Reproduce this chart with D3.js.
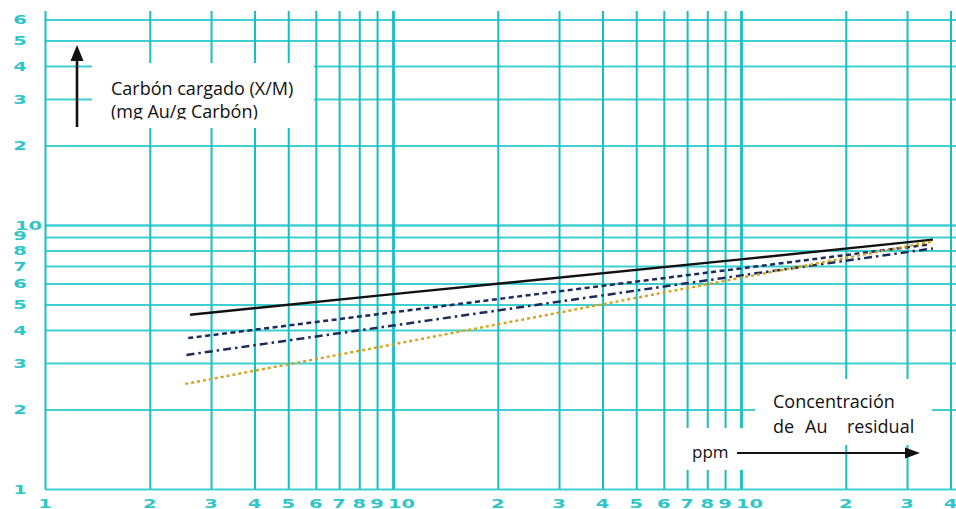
<!DOCTYPE html>
<html>
<head>
<meta charset="utf-8">
<script src="https://cdn.jsdelivr.net/npm/d3@7"></script>
<style>
  html, body { margin: 0; padding: 0; background: #fff; }
  svg { display: block; }
</style>
</head>
<body>
<svg id="chart" width="956" height="509"></svg>
<script>
// Log-log grid: gold loaded on carbon vs. residual gold concentration
const xTickValues = [1, 2, 3, 4, 5, 6, 7, 8, 9, 10, 20, 30, 40, 50, 60, 70, 80, 90, 100, 200, 300, 400];
const xTickLabels = ["1", "2", "3", "4", "5", "6", "7", "8", "9", "10", "2", "3", "4", "5", "6", "7", "8", "9", "10", "2", "3", "4"];
const yTickValues = [1, 2, 3, 4, 5, 6, 7, 8, 9, 10, 20, 30, 40, 50, 60];
const yTickLabels = ["1", "2", "3", "4", "5", "6", "7", "8", "9", "10", "2", "3", "4", "5", "6"];

// Isotherm curves (x: ppm Au residual, y: mg Au / g carbon)
const solidX = [2.61, 10, 100, 356];
const solidY = [4.57, 5.47, 7.41, 8.8];
const dashedX = [2.58, 10, 100, 350];
const dashedY = [3.73, 4.67, 6.85, 8.45];
const dashDotX = [2.55, 10, 100, 356];
const dashDotY = [3.22, 4.16, 6.44, 8.15];
const dottedX = [2.53, 10, 100, 353];
const dottedY = [2.5, 3.53, 6.31, 8.65];

const svg = d3.select("#chart");

const x = d3.scaleLog().domain([1, 1000]).range([45, 1089]);
const y = d3.scaleLog().domain([1, 100]).range([489, -39]);

const gridTop = 64.7;     // upper end of vertical rules
const gridRight = 420;    // right end of horizontal rules

const vColor = "#16bfc2";
const hColor = "#3fcfd1";

// horizontal rules
const gy = svg.append("g")
  .attr("transform", `translate(${x(1)},0)`)
  .call(d3.axisLeft(y).tickValues(yTickValues)
    .tickSize(-(x(gridRight) - x(1))).tickFormat(""));
gy.select(".domain").remove();
gy.selectAll(".tick line")
  .attr("stroke", hColor)
  .attr("stroke-width", d => d === 10 ? 2.6 : 2);

// vertical rules
const gx = svg.append("g")
  .attr("transform", `translate(0,${y(1)})`)
  .call(d3.axisBottom(x).tickValues(xTickValues)
    .tickSize(-(y(1) - y(gridTop))).tickFormat(""));
gx.select(".domain").remove();
gx.selectAll(".tick line")
  .attr("stroke", vColor)
  .attr("stroke-width", d => (d === 10 || d === 100) ? 2.8 : 2);

// white panels behind the axis titles
const panels = [
  [92, 63, 222, 65],
  [755, 379, 177, 66],
  [672, 428, 80, 42]
];
svg.append("g").selectAll("rect").data(panels).join("rect")
  .attr("x", d => d[0]).attr("y", d => d[1])
  .attr("width", d => d[2]).attr("height", d => d[3])
  .attr("fill", "#fff");

// tick labels
const labelColor = "#2fc6c9";
const tickFont = "'DejaVu Sans', sans-serif";

svg.append("g").selectAll("text").data(xTickValues).join("text")
  .each(function (d, i) {
    const t = d3.select(this);
    const lbl = xTickLabels[i];
    const isTen = lbl === "10";
    const px = isTen ? x(d) - 5 : x(d);
    t.attr("transform", `translate(${px},507.5) scale(1.5,1)`)
      .attr("text-anchor", isTen ? "start" : "middle")
      .text(lbl);
  })
  .attr("font-family", tickFont)
  .attr("font-weight", "bold")
  .attr("font-size", 13)
  .attr("fill", labelColor);

svg.append("g").selectAll("text").data(yTickValues).join("text")
  .each(function (d, i) {
    const t = d3.select(this);
    const lbl = yTickLabels[i];
    const isTen = lbl === "10";
    const px = isTen ? 15 : 20;
    const py = y(d) + 4.8 + (lbl === "9" && d === 9 ? -2 : 0);
    t.attr("transform", `translate(${px},${py}) scale(1.5,1)`)
      .attr("text-anchor", isTen ? "start" : "middle")
      .text(lbl);
  })
  .attr("font-family", tickFont)
  .attr("font-weight", "bold")
  .attr("font-size", 13)
  .attr("fill", labelColor);

// curves
const line = d3.line().x(d => x(d[0])).y(d => y(d[1]));
const curves = [
  { xs: solidX, ys: solidY, color: "#111", width: 2.4, dash: null },
  { xs: dashedX, ys: dashedY, color: "#1d2b5c", width: 2.5, dash: "5,3.5" },
  { xs: dashDotX, ys: dashDotY, color: "#1d2b5c", width: 2.5, dash: "8,4,2.5,4" },
  { xs: dottedX, ys: dottedY, color: "#d4a21e", width: 2.4, dash: "3,3" }
];
svg.append("g").selectAll("path").data(curves).join("path")
  .attr("d", c => line(c.xs.map((v, i) => [v, c.ys[i]])))
  .attr("fill", "none")
  .attr("stroke", d => d.color)
  .attr("stroke-width", d => d.width)
  .attr("stroke-dasharray", d => d.dash);

// axis titles
const titleFont = "'Open Sans', 'Noto Sans', sans-serif";
const titleSize = 18;
svg.append("defs").append("clipPath").attr("id", "clipUnits")
  .append("rect").attr("x", 100).attr("y", 98).attr("width", 220).attr("height", 21.5);

svg.append("text").attr("x", 111).attr("y", 95)
  .attr("font-family", titleFont).attr("font-size", titleSize).attr("fill", "#111")
  .text("Carbón cargado (X/M)");
svg.append("text").attr("x", 111).attr("y", 118)
  .attr("font-family", titleFont).attr("font-size", titleSize).attr("fill", "#111")
  .attr("clip-path", "url(#clipUnits)")
  .text("(mg Au/g Carbón)");

svg.append("text").attr("x", 773).attr("y", 408)
  .attr("font-family", titleFont).attr("font-size", titleSize).attr("fill", "#111")
  .text("Concentración");
const sub = svg.append("text").attr("y", 433)
  .attr("font-family", titleFont).attr("font-size", titleSize).attr("fill", "#111");
sub.append("tspan").attr("x", 773).text("de");
sub.append("tspan").attr("x", 805).text("Au");
sub.append("tspan").attr("x", 847).text("residual");

svg.append("text").attr("x", 692).attr("y", 458)
  .attr("font-family", titleFont).attr("font-size", 17).attr("fill", "#111")
  .text("ppm");

// arrows
svg.append("line").attr("x1", 77).attr("y1", 127).attr("x2", 77).attr("y2", 58)
  .attr("stroke", "#111").attr("stroke-width", 2.6);
svg.append("path").attr("d", "M77,45 L70.5,61 L83.5,61 Z").attr("fill", "#111");

svg.append("line").attr("x1", 737).attr("y1", 453).attr("x2", 908).attr("y2", 453)
  .attr("stroke", "#111").attr("stroke-width", 2);
svg.append("path").attr("d", "M920,453 L905,447.5 L905,458.5 Z").attr("fill", "#111");
</script>
</body>
</html>
